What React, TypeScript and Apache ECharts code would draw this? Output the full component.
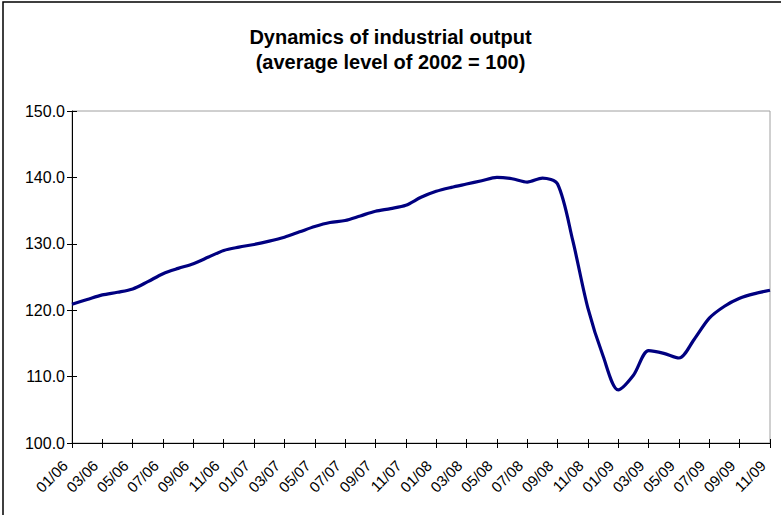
import React, { useEffect, useRef } from "react";
import * as echarts from "echarts";

const categories = [
  "01/06","02/06","03/06","04/06","05/06","06/06","07/06","08/06","09/06","10/06","11/06","12/06",
  "01/07","02/07","03/07","04/07","05/07","06/07","07/07","08/07","09/07","10/07","11/07","12/07",
  "01/08","02/08","03/08","04/08","05/08","06/08","07/08","08/08","09/08","10/08","11/08","12/08",
  "01/09","02/09","03/09","04/09","05/09","06/09","07/09","08/09","09/09","10/09","11/09",
];

const outputIndex = [
  120.9, 121.6, 122.3, 122.7, 123.2, 124.3, 125.5, 126.3, 127.0, 128.0, 129.0, 129.5,
  129.9, 130.4, 131.0, 131.8, 132.6, 133.2, 133.5, 134.2, 134.9, 135.3, 135.8, 137.0,
  137.9, 138.5, 139.0, 139.5, 140.0, 139.8, 139.3, 139.9, 139.0, 130.5, 120.3, 113.1,
  108.0, 110.2, 113.9, 113.5, 112.8, 115.6, 118.8, 120.6, 121.8, 122.5, 123.0,
];

const titleLines = ["Dynamics of industrial output", "(average level of 2002 = 100)"];

export default function App() {
  const ref = useRef<HTMLDivElement>(null);
  useEffect(() => {
    if (!ref.current) return;
    const chart = echarts.init(ref.current, null, { renderer: "svg" });
    const font = "Arial, 'Liberation Sans', sans-serif";
    chart.setOption({
      animation: false,
      backgroundColor: "#ffffff",
      title: {
        text: titleLines.join("\n"),
        left: "center",
        top: 19,
        textStyle: {
          fontFamily: font,
          fontWeight: "bold",
          fontSize: 20,
          lineHeight: 25,
          color: "#000",
        },
      },
      graphic: [
        {
          type: "polyline",
          shape: { points: [[3, 520], [3, 2], [790, 2]] },
          style: { stroke: "#000", lineWidth: 1.5, fill: "none" },
          silent: true,
        },
      ],
      grid: {
        left: 72,
        top: 111,
        right: 11,
        bottom: 72,
        show: true,
        borderColor: "#a0a0a0",
        borderWidth: 1,
      },
      xAxis: [
        {
          type: "category",
          data: categories,
          boundaryGap: false,
          axisLine: { lineStyle: { color: "#000", width: 1 } },
          axisTick: { show: true, length: 5, interval: 1, lineStyle: { color: "#000" } },
          axisLabel: {
            interval: 1,
            rotate: 45,
            margin: 13,
            formatter: (v: string) => `{t|${v}}`,
            rich: {
              t: {
                fontFamily: font,
                fontSize: 15,
                color: "#000",
                padding: [0, 10, 0, 0],
              },
            },
            fontFamily: font,
            fontSize: 15,
            color: "#000",
          },
          splitLine: { show: false },
        },
        {
          type: "category",
          data: categories,
          boundaryGap: false,
          position: "bottom",
          axisLine: { show: false },
          axisTick: { show: true, inside: true, length: 4, interval: 1, lineStyle: { color: "#000" } },
          axisLabel: { show: false },
          splitLine: { show: false },
        },
      ],
      yAxis: [
        {
          type: "value",
          min: 100,
          max: 150,
          interval: 10,
          axisLine: { show: true, lineStyle: { color: "#000", width: 1 } },
          axisTick: { show: true, length: 5, lineStyle: { color: "#000" } },
          axisLabel: {
            formatter: (v: number) => v.toFixed(1),
            fontFamily: font,
            fontSize: 16,
            color: "#000",
            margin: 7,
          },
          splitLine: { show: false },
        },
        {
          type: "value",
          min: 100,
          max: 150,
          interval: 10,
          position: "left",
          axisLine: { show: false },
          axisTick: { show: true, inside: true, length: 5, lineStyle: { color: "#000" } },
          axisLabel: { show: false },
          splitLine: { show: false },
        },
      ],
      series: [
        {
          type: "line",
          data: outputIndex,
          smooth: 0.3,
          symbol: "none",
          lineStyle: { color: "#000080", width: 3.2 },
          z: 3,
        },
      ],
    });
    return () => chart.dispose();
  }, []);
  return <div ref={ref} style={{ width: 781, height: 515, position: "absolute", left: 0, top: 0 }} />;
}
